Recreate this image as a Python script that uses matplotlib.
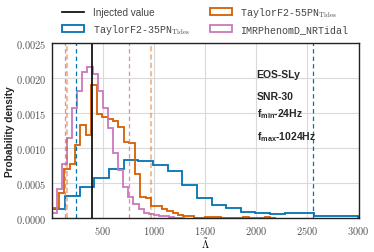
import numpy as np
import matplotlib
matplotlib.use('Agg')
import matplotlib.pyplot as plt
from matplotlib.patches import Patch
from matplotlib.lines import Line2D
from matplotlib.font_manager import FontProperties
from matplotlib.ticker import FuncFormatter, FixedLocator

plt.rcParams['mathtext.fontset'] = 'cm'
plt.rcParams['mathtext.bf'] = 'Liberation Sans:bold'
plt.rcParams['mathtext.rm'] = 'Liberation Sans'
plt.rcParams['mathtext.it'] = 'Liberation Sans:italic'
plt.rcParams['mathtext.sf'] = 'Liberation Sans'

# ---------------- data ----------------
injected_lambda = 390

labels = [r'TaylorF2-35PN$_{\rm Tides}$', r'TaylorF2-55PN$_{\rm Tides}$', 'IMRPhenomD_NRTidal']
colors = ['#0173b2', '#d55e00', '#cc78bc']

blue_edges = [0, 133, 276, 419, 562, 705, 848, 991, 1134, 1277, 1420, 1563, 1706,
              1849, 1992, 2135, 2278, 2421, 2564, 2707, 2850, 2993, 3136]
blue_density = [0.00013, 0.00032, 0.00045, 0.00058, 0.00070, 0.00083, 0.00082, 0.00076,
                0.00068, 0.00047, 0.00029, 0.00019, 0.00015, 0.000095, 0.00007, 0.000057,
                0.00007, 0.000076, 0.00004, 0.000035, 0.00003, 0.000025]

orange_edges = [0, 17, 70, 123, 176, 229, 282, 335, 388, 441, 494, 547, 600, 653, 706,
                759, 812, 865, 918, 971, 1024, 1077, 1130, 1183, 1236, 1289, 1342, 1395,
                1448, 1501, 1554, 1607, 1660, 1713, 1766, 1819, 1872, 1925, 1978, 2031,
                2084, 2137, 2190]
orange_density = [0.00013, 0.00015, 0.00036, 0.00070, 0.00078, 0.00105, 0.00133, 0.00118,
                  0.00190, 0.00149, 0.00144, 0.00142, 0.00139, 0.00130, 0.00108, 0.00107,
                  0.00063, 0.00030, 0.00029, 0.00018, 0.00017, 0.00014, 0.00011, 0.00007,
                  0.00005, 0.00003, 0.00003, 0.00001, 0.0, 0.00002, 0.00002, 0.00002,
                  0.0, 0.0, 0.0, 0.0, 0.000015, 0.0, 0.0, 0.0, 0.000015, 0.0]

pink_edges = [0, 50, 100, 150, 200, 250, 300, 350, 400, 450, 500, 550, 600, 650, 700,
              750, 800, 850, 900, 950, 1000, 1050, 1100, 1150, 1200, 1250, 1300]
pink_density = [0.00008, 0.00042, 0.00077, 0.00114, 0.00157, 0.00181, 0.00209, 0.00216,
                0.00205, 0.00181, 0.00157, 0.00128, 0.00093, 0.00069, 0.00045, 0.00030,
                0.00020, 0.00013, 0.00008, 0.00006, 0.00005, 0.00003, 0.00003, 0.00002,
                0.00001, 0.00001]

# 90% credible bounds (lower, upper)
blue_bounds = [242, 2555]
orange_bounds = [154, 970]
pink_bounds = [131, 760]

xticks = [500, 1000, 1500, 2000, 2500, 3000]
yticks = [0.0, 0.0005, 0.0010, 0.0015, 0.0020, 0.0025]

# ---------------- figure ----------------
fig = plt.figure(figsize=(3.74, 2.53), dpi=100)
ax = fig.add_axes([0.138, 0.133, 0.8206, 0.694])
ax.set_axisbelow(True)
ax.grid(True, color='#dadada', lw=0.8)

ax.stairs(blue_density, blue_edges, color=colors[0], lw=1.3, fill=False)
ax.stairs(orange_density, orange_edges, color=colors[1], lw=1.3, fill=False)
ax.stairs(pink_density, pink_edges, color=colors[2], lw=1.3, fill=False)

for b in blue_bounds:
    ax.axvline(b, color=colors[0], ls='--', lw=0.9, dashes=(3.5, 2.5))
for b in orange_bounds:
    ax.axvline(b, color=colors[1], ls='--', lw=1.5, alpha=0.4, dashes=(2.5, 1.5))
for b in pink_bounds:
    ax.axvline(b, color=colors[2], ls='--', lw=0.9, alpha=0.85, dashes=(3.5, 2.5))

ax.axvline(injected_lambda, color='black', lw=1.2)

ax.set_xlim(0, 3000)
ax.set_ylim(0, 0.0025)
ax.xaxis.set_major_locator(FixedLocator(xticks))
ax.yaxis.set_major_locator(FixedLocator(yticks))
ax.xaxis.set_major_formatter(FuncFormatter(lambda v, p: r'$%d$' % round(v)))
ax.yaxis.set_major_formatter(FuncFormatter(lambda v, p: r'$%.4f$' % v))
ax.tick_params(length=0, labelsize=7.5, labelcolor='#555555', pad=4)
for s in ax.spines.values():
    s.set_color('#222222')
    s.set_linewidth(1.0)

ax.set_xlabel(r'$\tilde{\Lambda}$', fontsize=7.5, va='center')
ax.xaxis.set_label_coords(0.5, -0.14)
ax.set_ylabel('Probability density', family='Liberation Sans', fontweight='bold',
              fontsize=7.3, color='#222222', va='center')
ax.yaxis.set_label_coords(-0.135, 0.5)

tkw = dict(transform=ax.transAxes, family='Liberation Sans', fontweight='bold',
           fontsize=7.5, color='#262626', math_fontfamily='custom')
ax.text(0.668, 0.803, 'EOS-SLy', **tkw)
ax.text(0.668, 0.679, 'SNR-30', **tkw)
ax.text(0.668, 0.584, r'$\mathbf{f_{min}}$-24Hz', **tkw)
ax.text(0.668, 0.452, r'$\mathbf{f_{max}}$-1024Hz', **tkw)

handles = [Line2D([], [], color='black', lw=1.2),
           Patch(facecolor='none', edgecolor=colors[0], lw=1.3),
           Patch(facecolor='none', edgecolor=colors[1], lw=1.3),
           Patch(facecolor='none', edgecolor=colors[2], lw=1.3)]
leg_labels = ['Injected value', labels[0], labels[1], labels[2]]
leg = ax.legend(handles, leg_labels, loc='lower center', bbox_to_anchor=(0.5, 1.0),
                ncol=2, frameon=False,
                prop=FontProperties(family='Liberation Mono', size=7.2, math_fontfamily='cm'),
                handlelength=2.2, handletextpad=0.85, columnspacing=2.0,
                labelspacing=0.45, borderaxespad=0.3)
leg.get_texts()[0].set_fontfamily('Liberation Sans')
for t in leg.get_texts():
    t.set_color('#444444')

fig.savefig('out.png', dpi=100)
